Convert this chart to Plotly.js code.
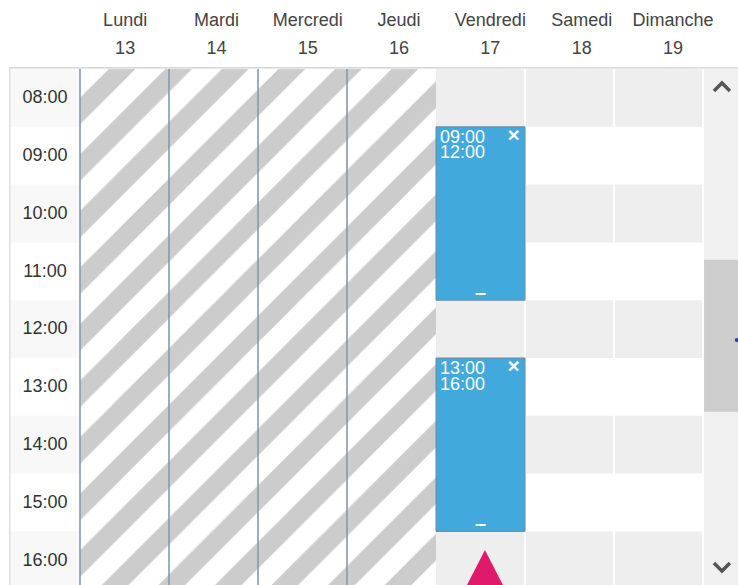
<!DOCTYPE html>
<html><head><meta charset="utf-8">
<script src="https://cdn.plot.ly/plotly-3.0.1.min.js"></script>
<style>html,body{margin:0;padding:0;background:#fff;} #chart{width:738px;height:585px;}</style>
</head><body><div id="chart"></div>
<script>
// ---- data ----
const dayNames = ['Lundi','Mardi','Mercredi','Jeudi','Vendredi','Samedi','Dimanche'];
const dayNumbers = ['13','14','15','16','17','18','19'];
const headerRows = [0, 1]; // 0: day name, 1: day number
const hours = [8,9,10,11,12,13,14,15,16];
const hourLabels = ['08:00','09:00','10:00','11:00','12:00','13:00','14:00','15:00','16:00'];
const closedDays = [0,1,2,3];
const openDays = [4,5,6];
const eventDays = [4,4];
const eventStarts = [9,13];
const eventEnds = [12,16];
const eventStartLabels = ['09:00','13:00'];
const eventEndLabels = ['12:00','16:00'];
const scrollThumb = [11.3, 13.93];
const indicatorDay = 4.55;
const indicatorHour = 16.32;

// ---- layout geometry ----
const xRange = [-0.7978, 7.3933];
const yRange = [16.927, 8];
const gridTop = 516/585;
const firstHour = hours[0];
const lastHour = hours[hours.length-1] + 1;
const font = '"Liberation Sans", Arial, sans-serif';

const traces = [];
// hatched (closed) days
traces.push({
  type:'bar', x: closedDays.map(d=>d+0.5), y: closedDays.map(()=>lastHour-firstHour),
  base: closedDays.map(()=>firstHour), width: closedDays.map(()=>1),
  marker:{color:'#ffffff', line:{width:0},
    pattern:{shape:'/', size:40, solidity:0.47, fgcolor:'#cccccc', bgcolor:'#ffffff', fillmode:'replace'}},
  hoverinfo:'skip', showlegend:false
});
// events
traces.push({
  type:'bar', x: eventDays.map(d=>d+0.5), y: eventStarts.map((s,i)=>eventEnds[i]-s),
  base: eventStarts, width: eventDays.map(()=>1),
  marker:{color:'#42a9dd', line:{color:'#71899b', width:1}},
  hoverinfo:'skip', showlegend:false
});
// time labels
traces.push({
  type:'scatter', mode:'text', x: hours.map(()=>-0.393), y: hours.map(h=>h+0.515),
  text: hourLabels, textposition:'middle center',
  textfont:{family:font, size:18, color:'#333333'}, cliponaxis:false, hoverinfo:'skip', showlegend:false
});
// header: day names and numbers on the header subplot
traces.push({
  type:'scatter', mode:'text', xaxis:'x2', yaxis:'y2', x: dayNames, y: dayNames.map(()=>headerRows[0]),
  text: dayNames, textposition:'middle center',
  textfont:{family:font, size:18, color:'#444444'}, cliponaxis:false, hoverinfo:'skip', showlegend:false
});
traces.push({
  type:'scatter', mode:'text', xaxis:'x2', yaxis:'y2', x: dayNames, y: dayNames.map(()=>headerRows[1]),
  text: dayNumbers, textposition:'middle center',
  textfont:{family:font, size:18, color:'#444444'}, cliponaxis:false, hoverinfo:'skip', showlegend:false
});
// event texts
traces.push({
  type:'scatter', mode:'text', x: eventDays.map(d=>d+0.045), y: eventStarts.map(s=>s+0.195),
  text: eventStartLabels, textposition:'middle right',
  textfont:{family:font, size:18, color:'#ffffff'}, hoverinfo:'skip', showlegend:false
});
traces.push({
  type:'scatter', mode:'text', x: eventDays.map(d=>d+0.045), y: eventStarts.map(s=>s+0.47),
  text: eventEndLabels, textposition:'middle right',
  textfont:{family:font, size:18, color:'#ffffff'}, hoverinfo:'skip', showlegend:false
});
traces.push({
  type:'scatter', mode:'text', x: eventDays.map(d=>d+0.871), y: eventStarts.map(s=>s+0.17),
  text: eventDays.map(()=>'<b>×</b>'), textposition:'middle center',
  textfont:{family:font, size:21, color:'#ffffff'}, hoverinfo:'skip', showlegend:false
});
traces.push({
  type:'scatter', mode:'text', x: eventDays.map(d=>d+0.5), y: eventEnds.map(e=>e-0.11),
  text: eventDays.map(()=>'<b>–</b>'), textposition:'middle center',
  textfont:{family:font, size:20, color:'#ffffff'}, hoverinfo:'skip', showlegend:false
});
// small dot on scrollbar
traces.push({
  type:'scatter', mode:'markers', x:[7.379], y:[12.69],
  marker:{size:4, color:'#2a35d8'}, cliponaxis:false, hoverinfo:'skip', showlegend:false
});

const shapes = [];
const evenHours = hours.filter(h=>h%2===0);
// time column alternating background
evenHours.forEach(h=>shapes.push({type:'rect', layer:'below', xref:'paper', yref:'y',
  x0:0, x1:0.0974, y0:h, y1:h+1, fillcolor:'#f8f8f8', line:{width:0}}));
// open days alternating rows
evenHours.forEach(h=>shapes.push({type:'rect', layer:'below', xref:'x', yref:'y',
  x0:openDays[0], x1:openDays[openDays.length-1]+1, y0:h, y1:h+1, fillcolor:'#eeeeee', line:{width:0}}));
// scrollbar
shapes.push({type:'rect', layer:'below', xref:'x', yref:'y', x0:7, x1:xRange[1], y0:yRange[1], y1:yRange[0],
  fillcolor:'#f0f0f0', line:{width:0}});
shapes.push({type:'rect', layer:'below', xref:'x', yref:'y', x0:7.012, x1:xRange[1], y0:scrollThumb[0], y1:scrollThumb[1],
  fillcolor:'#cdcdcd', line:{width:0}});
// white separators between open day columns
openDays.forEach(d=>shapes.push({type:'line', layer:'below', xref:'x', yref:'y',
  x0:d+1, x1:d+1, y0:yRange[1], y1:yRange[0], line:{color:'#ffffff', width:2}}));
// dark borders of closed days
closedDays.forEach(d=>shapes.push({type:'line', layer:'above', xref:'x', yref:'y',
  x0:d, x1:d, y0:yRange[1], y1:yRange[0], line:{color:'#8798aa', width:1.6}}));
// grid frame
shapes.push({type:'line', layer:'above', xref:'paper', yref:'paper', x0:0, x1:1, y0:gridTop+0.002, y1:gridTop+0.002,
  line:{color:'#d6d6d6', width:1.5}});
shapes.push({type:'line', layer:'above', xref:'paper', yref:'paper', x0:0.001, x1:0.001, y0:0, y1:gridTop,
  line:{color:'#dddddd', width:1.5}});
// scroll chevrons
shapes.push({type:'path', layer:'above', xref:'x', yref:'y', xsizemode:'pixel', ysizemode:'pixel',
  xanchor:7.213, yanchor:8.311, path:'M -8,-4 L 0,4 L 8,-4', line:{color:'#555555', width:3.5}});
shapes.push({type:'path', layer:'above', xref:'x', yref:'y', xsizemode:'pixel', ysizemode:'pixel',
  xanchor:7.213, yanchor:16.616, path:'M -8,4 L 0,-4 L 8,4', line:{color:'#555555', width:3.5}});
// pink indicator
shapes.push({type:'path', layer:'above', xref:'x', yref:'y', xsizemode:'pixel', ysizemode:'pixel',
  xanchor:indicatorDay, yanchor:indicatorHour, path:'M 0,0 L -23,-45 L 23,-45 Z',
  fillcolor:'#e0196a', line:{width:0}});

const layout = {
  width:738, height:585,
  margin:{l:9, r:0, t:0, b:0, pad:0},
  paper_bgcolor:'#ffffff', plot_bgcolor:'rgba(0,0,0,0)',
  barmode:'overlay', showlegend:false, hovermode:false,
  xaxis:{range:xRange, visible:false, fixedrange:true, anchor:'y'},
  yaxis:{range:yRange, visible:false, fixedrange:true, domain:[0, gridTop], anchor:'x'},
  xaxis2:{type:'category', domain:[0.0967, 0.9734], anchor:'y2', range:[-0.5, 6.5], visible:false, fixedrange:true},
  yaxis2:{domain:[gridTop, 1], anchor:'x2', range:[1.714, -0.75], visible:false, fixedrange:true},
  shapes: shapes
};
Plotly.newPlot('chart', traces, layout, {staticPlot:true, displayModeBar:false});
</script>
</body></html>
